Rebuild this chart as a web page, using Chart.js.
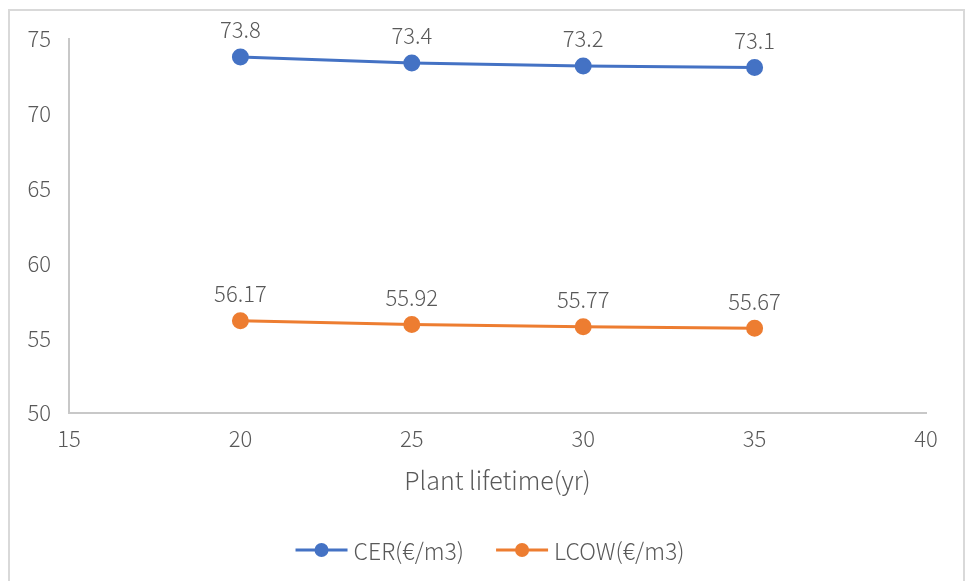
<!DOCTYPE html>
<html>
<head>
<meta charset="utf-8">
<script src="https://cdn.jsdelivr.net/npm/chart.js@4/dist/chart.umd.min.js"></script>
<style>
  html, body { margin: 0; padding: 0; background: #fff; }
  #frame { position: absolute; left: 8px; top: 9px; width: 957px; height: 600px; border: 2px solid #d9d9d9; box-sizing: border-box; }
  #wrap { position: absolute; left: 0; top: 0; width: 972px; height: 581px; }
</style>
</head>
<body>
<div id="frame"></div>
<div id="wrap"><canvas id="c" width="972" height="581"></canvas></div>
<script>
const lifetimes = [20, 25, 30, 35];
const cerValues = [73.8, 73.4, 73.2, 73.1];
const lcowValues = [56.17, 55.92, 55.77, 55.67];
const seriesNames = ['CER(€/m3)', 'LCOW(€/m3)'];
const xAxisTitle = 'Plant lifetime(yr)';

const FONT = '"Noto Sans CJK SC", "Noto Sans", sans-serif';
const TEXT = '#595959';

const toPoints = vals => lifetimes.map((x, i) => ({ x, y: vals[i] }));

// value labels above each point
const valueLabels = {
  id: 'valueLabels',
  afterDatasetsDraw(chart) {
    const ctx = chart.ctx;
    ctx.save();
    ctx.font = '300 22px ' + FONT;
    ctx.fillStyle = TEXT;
    ctx.textAlign = 'center';
    ctx.textBaseline = 'middle';
    chart.data.datasets.forEach((ds, di) => {
      chart.getDatasetMeta(di).data.forEach((pt, i) => {
        ctx.fillText(String(ds.data[i].y), pt.x, pt.y - 27);
      });
    });
    ctx.restore();
  }
};

// line-and-marker legend under the axis title
const lineLegend = {
  id: 'lineLegend',
  afterDraw(chart) {
    const ctx = chart.ctx;
    ctx.save();
    ctx.font = '300 23px ' + FONT;
    ctx.textBaseline = 'middle';
    ctx.textAlign = 'left';
    const y = 550;
    const gap = 32, lineLen = 52, textGap = 6;
    const widths = chart.data.datasets.map(ds => ctx.measureText(ds.label).width);
    const total = widths.reduce((a, w) => a + lineLen + textGap + w, 0) + gap * (widths.length - 1);
    let x = (chart.width - total) / 2 + 4;
    chart.data.datasets.forEach((ds, i) => {
      ctx.strokeStyle = ds.borderColor;
      ctx.lineWidth = 3;
      ctx.beginPath();
      ctx.moveTo(x, y);
      ctx.lineTo(x + lineLen, y);
      ctx.stroke();
      ctx.fillStyle = ds.pointBackgroundColor;
      ctx.beginPath();
      ctx.arc(x + lineLen / 2, y, 7, 0, Math.PI * 2);
      ctx.fill();
      ctx.fillStyle = TEXT;
      ctx.fillText(ds.label, x + lineLen + textGap, y + 1);
      x += lineLen + textGap + widths[i] + gap;
    });
    ctx.restore();
  }
};

new Chart(document.getElementById('c'), {
  type: 'line',
  data: {
    datasets: [
      {
        label: seriesNames[0],
        data: toPoints(cerValues),
        borderColor: '#4472C4',
        backgroundColor: '#4472C4',
        pointBackgroundColor: '#4472C4',
        pointBorderColor: '#4472C4',
        borderWidth: 3,
        pointRadius: 7,
        tension: 0
      },
      {
        label: seriesNames[1],
        data: toPoints(lcowValues),
        borderColor: '#ED7D31',
        backgroundColor: '#ED7D31',
        pointBackgroundColor: '#ED7D31',
        pointBorderColor: '#ED7D31',
        borderWidth: 3,
        pointRadius: 7,
        tension: 0
      }
    ]
  },
  options: {
    responsive: false,
    animation: false,
    events: [],
    layout: { padding: { left: 0, right: 46, top: 39, bottom: 82 } },
    plugins: { legend: { display: false }, tooltip: { enabled: false } },
    scales: {
      x: {
        type: 'linear',
        min: 15, max: 40,
        grid: { display: false, drawTicks: false },
        border: { display: true, color: '#c8c8c8', width: 2 },
        ticks: { stepSize: 5, color: TEXT, font: { family: FONT, size: 22, weight: 300 }, padding: 12, maxRotation: 0 },
        title: { display: true, text: xAxisTitle, color: TEXT, font: { family: FONT, size: 25, weight: 300 } },
        afterFit(s) { s.height = 86; }
      },
      y: {
        min: 50, max: 75,
        grid: { display: false, drawTicks: false },
        border: { display: true, color: '#c8c8c8', width: 2 },
        ticks: { stepSize: 5, color: TEXT, font: { family: FONT, size: 22, weight: 300 }, padding: 18 },
        afterFit(s) { s.width = 69; }
      }
    }
  },
  plugins: [valueLabels, lineLegend]
});
</script>
</body>
</html>
